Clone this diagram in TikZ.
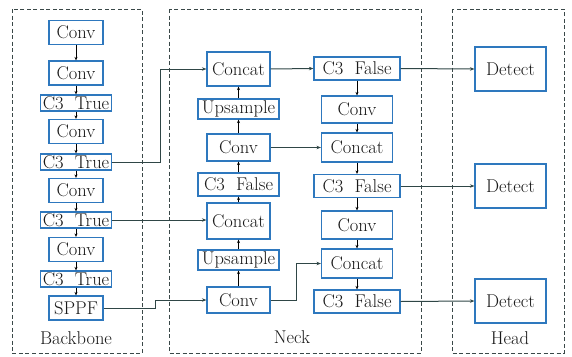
\documentclass[tikz,border=0pt]{standalone}
\usetikzlibrary{arrows.meta}
\definecolor{boxblue}{HTML}{2E78BE}
\definecolor{wire}{HTML}{2F4646}
\definecolor{frame}{HTML}{3A4848}
\tikzset{
  blk/.style={draw=boxblue, line width=1.2pt, fill=white, inner sep=0pt,
              font=\fontsize{18.5}{20}\selectfont, text=black!90},
  convbox/.style={blk, minimum width=54pt, minimum height=24pt},
  c3box/.style={blk, minimum width=71pt, minimum height=16pt},
  catbox/.style={blk, minimum width=63pt, minimum height=34pt},
  upbox/.style={blk, minimum width=81pt, minimum height=20pt},
  c3fbox/.style={blk, minimum width=86pt, minimum height=23pt},
  detbox/.style={blk, minimum width=71pt, minimum height=44pt},
  stage/.style={draw=frame, line width=0.9pt, dash pattern=on 4pt off 2.5pt},
  stagelabel/.style={font=\fontsize{18.5}{20}\selectfont, text=black!90},
  link/.style={draw=wire, line width=1pt, -{Stealth[length=4.5pt,width=3.5pt]}},
  flow/.style={draw=black, line width=0.8pt, -{Stealth[length=3.5pt,width=3pt]}}
}
\begin{document}
\begin{tikzpicture}[x=1pt,y=-1pt]
\useasboundingbox (0,0) rectangle (572,356);

% stage frames
\draw[stage] (12,9) rectangle (142,353);
\draw[stage] (169,9) rectangle (421,353);
\draw[stage] (452,9) rectangle (564,353);
\node[stagelabel] (lbb) at (76,338) {Backbone};
\node[stagelabel] (lnk) at (292,337) {Neck};
\node[stagelabel] (lhd) at (510,338) {Head};

% backbone
\node[convbox] (b1) at (76,32.5) {Conv};
\node[convbox] (b2) at (76,73) {Conv};
\node[c3box]   (b3) at (76,103) {C3\ \ True};
\node[convbox] (b4) at (76,131.5) {Conv};
\node[c3box]   (b5) at (76,162) {C3\ \ True};
\node[convbox] (b6) at (76,190.5) {Conv};
\node[c3box]   (b7) at (76,220) {C3\ \ True};
\node[convbox] (b8) at (76,249.5) {Conv};
\node[c3box]   (b9) at (76,279) {C3\ \ True};
\node[convbox] (b10) at (76,308) {SPPF};
\foreach \a/\b in {b1/b2,b2/b3,b3/b4,b4/b5,b5/b6,b6/b7,b7/b8,b8/b9,b9/b10}
  \draw[flow] (\a.south) -- (\b.north);

% neck, upward path
\node[catbox]  (n1) at (238.5,69) {Concat};
\node[upbox]   (n2) at (238.5,109) {Upsample};
\node[convbox, minimum width=63pt, minimum height=27pt] (n3) at (238.5,147.5) {Conv};
\node[upbox, minimum height=23pt] (n4) at (238.5,184.5) {C3\ \ False};
\node[catbox, minimum height=36pt] (n5) at (238.5,221) {Concat};
\node[upbox]   (n6) at (238.5,260) {Upsample};
\node[convbox, minimum width=63pt, minimum height=26pt] (n7) at (238.5,300) {Conv};
\foreach \a/\b in {n7/n6,n6/n5,n5/n4,n4/n3,n3/n2,n2/n1}
  \draw[flow] (\a.north) -- (\b.south);

% neck, downward path
\node[c3fbox]  (m1) at (357,68.5) {C3\ \ False};
\node[convbox, minimum width=71pt, minimum height=27pt] (m2) at (357,109.5) {Conv};
\node[convbox, minimum width=71pt, minimum height=29pt] (m3) at (357,147.5) {Concat};
\node[c3fbox]  (m4) at (357,186) {C3\ \ False};
\node[convbox, minimum width=71pt, minimum height=28pt] (m5) at (357,225) {Conv};
\node[convbox, minimum width=71pt, minimum height=29pt] (m6) at (357,263.5) {Concat};
\node[c3fbox]  (m7) at (357,301.5) {C3\ \ False};
\foreach \a/\b in {m1/m2,m2/m3,m3/m4,m4/m5,m5/m6,m6/m7}
  \draw[flow] (\a.south) -- (\b.north);

% head
\node[detbox] (h1) at (510.5,69) {Detect};
\node[detbox] (h2) at (510.5,186) {Detect};
\node[detbox] (h3) at (510.5,301) {Detect};

% cross connections
\draw[link] (b5.east) -- ++(48.5,0) |- (n1.west);
\draw[link] (b7.east) -- (b7.east -| n5.west);
\draw[link] (b10.east) -- ++(52,0) |- (n7.west);
\draw[link] (n1.east) -- (m1.west);
\draw[link] (n3.east) -- (m3.west);
\draw[link] (n7.east) -- ++(26,0) |- (m6.west);
\draw[link] (m1.east) -- (h1.west);
\draw[link] (m4.east) -- (h2.west);
\draw[link] (m7.east) -- (h3.west);
\end{tikzpicture}
\end{document}
